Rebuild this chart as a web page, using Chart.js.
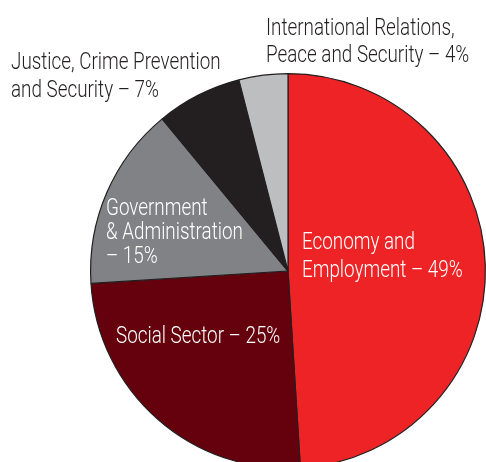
<!DOCTYPE html>
<html>
<head>
<meta charset="utf-8">
<script src="https://cdn.jsdelivr.net/npm/chart.js@4"></script>
<style>
    html, body { margin: 0; padding: 0; background: #fff; overflow: hidden; width: 486px; height: 462px; }
    #wrap { position: absolute; left: 0; top: 0; }
</style>
</head>
<body>
<div id="wrap"><canvas id="pie" width="576" height="542"></canvas></div>
<script>
// --- Data ---
const categories = [
    'Economy and Employment',
    'Social Sector',
    'Government & Administration',
    'Justice, Crime Prevention and Security',
    'International Relations, Peace and Security'
];
const shares = [49, 25, 15, 7, 4];
const sliceColors = ['#ee2326', '#65000d', '#808285', '#231f20', '#bcbec0'];

// label text, one array of lines per slice (the percentage is appended to the last line)
const labelLines = [
    ['Economy and', 'Employment –'],
    ['Social Sector –'],
    ['Government', '& Administration', '–'],
    ['Justice, Crime Prevention', 'and Security –'],
    ['International Relations,', 'Peace and Security –']
];

// --- Label layout (window pixels) ---
const labelPos = [
    { x: 302, y: 249, lh: 28, color: '#fff' },
    { x: 116, y: 343, lh: 28, color: '#fff' },
    { x: 106, y: 215, lh: 24, color: '#fff' },
    { x: 11, y: 69, lh: 28, color: '#231f20' },
    { x: 266, y: 35, lh: 27, color: '#231f20' }
];

// condensed look: regular face squeezed horizontally
const FONT = '300 24px Roboto, "Liberation Sans", sans-serif';
const X_SCALE = 0.785;

const sliceLabels = {
    id: 'sliceLabels',
    afterDraw(chart) {
        const ctx = chart.ctx;
        ctx.save();
        ctx.font = FONT;
        ctx.textBaseline = 'alphabetic';
        ctx.textAlign = 'left';
        labelLines.forEach((lines, i) => {
            const p = labelPos[i];
            ctx.fillStyle = p.color;
            lines.forEach((line, j) => {
                let text = line;
                if (j === lines.length - 1) text += ' ' + shares[i] + '%';
                ctx.save();
                ctx.translate(p.x, p.y + j * p.lh);
                ctx.scale(X_SCALE, 1);
                ctx.fillText(text, 0, 0);
                ctx.restore();
            });
        });
        ctx.restore();
    }
};

const ctx = document.getElementById('pie').getContext('2d');
new Chart(ctx, {
    type: 'pie',
    data: {
        labels: categories,
        datasets: [{
            data: shares,
            backgroundColor: sliceColors,
            borderColor: '#231f20',
            borderWidth: 1.2
        }]
    },
    options: {
        responsive: false,
        animation: false,
        layout: { padding: { left: 90, right: 90, top: 73, bottom: 73 } },
        plugins: {
            legend: { display: false },
            tooltip: { enabled: false }
        }
    },
    plugins: [sliceLabels]
});
</script>
</body>
</html>
